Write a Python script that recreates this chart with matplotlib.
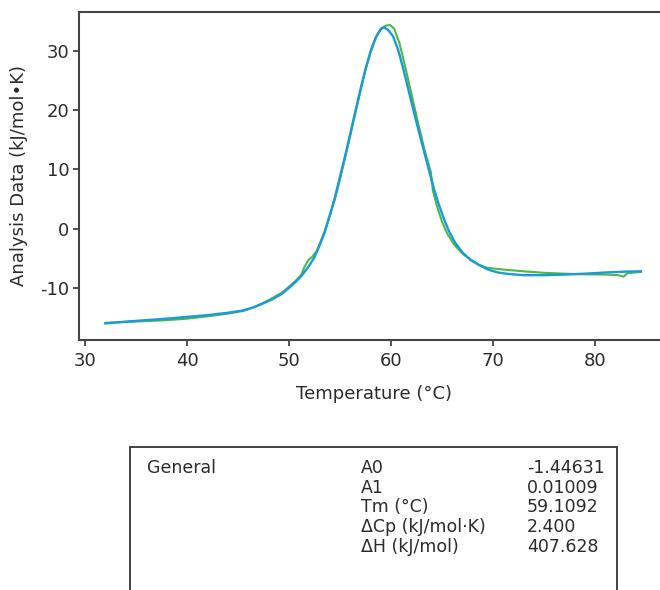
import matplotlib.pyplot as plt
from matplotlib.patches import Rectangle

# fitted curve (blue)
fit_t = [32.0, 34.0, 36.0, 38.0, 40.0, 42.0, 44.0, 45.5, 46.5, 47.5, 48.5, 49.3,
         50.0, 50.7, 51.3, 52.0, 52.5, 53.0, 53.5, 54.0, 54.5, 55.0, 55.5, 56.0,
         56.5, 57.0, 57.5, 58.0, 58.5, 59.0, 59.3, 59.7, 60.2, 60.7, 61.2, 61.7,
         62.2, 62.7, 63.2, 63.7, 64.2, 64.7, 65.2, 65.7, 66.3, 67.0, 67.8, 68.7,
         69.5, 70.5, 71.5, 73.0, 75.0, 77.0, 79.0, 81.0, 83.0, 84.5]
fit_v = [-16.0, -15.7, -15.45, -15.2, -14.9, -14.6, -14.2, -13.8, -13.3, -12.6, -11.8, -11.0,
         -10.0, -8.9, -7.8, -6.2, -4.8, -2.8, -0.6, 2.3, 5.3, 8.8, 12.3, 16.0,
         19.8, 23.5, 27.0, 30.0, 32.3, 33.7, 34.0, 33.6, 32.5, 30.2, 27.0, 23.5,
         20.0, 16.6, 13.3, 10.0, 6.8, 4.0, 1.6, -0.5, -2.4, -4.0, -5.3, -6.2,
         -6.9, -7.4, -7.65, -7.85, -7.85, -7.75, -7.6, -7.4, -7.25, -7.2]

# measured data (green)
data_t = [32.0, 34.0, 36.0, 38.0, 40.0, 42.0, 44.0, 45.5, 46.5, 47.5, 48.5, 49.3,
          50.0, 50.7, 51.2, 51.5, 51.9, 52.3, 52.7, 53.0, 53.5, 54.0, 54.5, 55.0,
          55.5, 56.0, 56.5, 57.0, 57.5, 58.0, 58.5, 59.0, 59.5, 59.9, 60.3, 60.8,
          61.3, 61.8, 62.3, 62.8, 63.3, 63.7, 63.9, 64.1, 64.5, 65.0, 65.5, 66.2,
          67.0, 67.8, 68.6, 69.4, 71.0, 73.0, 75.0, 77.0, 79.0, 81.0, 82.3, 82.8,
          83.2, 84.5]
data_v = [-15.9, -15.75, -15.6, -15.45, -15.2, -14.8, -14.35, -13.9, -13.3, -12.5, -11.6, -10.8,
          -9.8, -8.7, -7.8, -6.5, -5.3, -4.7, -3.8, -2.6, -0.4, 2.2, 5.0, 8.4,
          12.0, 15.7, 19.5, 23.2, 26.8, 29.8, 32.2, 33.8, 34.3, 34.4, 33.8, 31.5,
          28.0, 24.3, 20.5, 16.8, 13.2, 10.8, 9.6, 6.5, 3.8, 1.2, -0.8, -2.7,
          -4.2, -5.2, -6.1, -6.6, -6.9, -7.2, -7.45, -7.6, -7.7, -7.75, -7.85, -8.1,
          -7.5, -7.3]

param_names = ["A0", "A1", "Tm (°C)", "ΔCp (kJ/mol·K)", "ΔH (kJ/mol)"]
param_values = ["-1.44631", "0.01009", "59.1092", "2.400", "407.628"]

plt.rcParams["font.family"] = ["DejaVu Sans"]
plt.rcParams["axes.unicode_minus"] = False
TXT = "#2b2b2b"

fig = plt.figure(figsize=(6.6, 5.9), dpi=100)
ax = fig.add_axes([79 / 660, 1 - 340 / 590, 1 - 79 / 660, 328 / 590])

ax.plot(data_t, data_v, color="#4cb848", linewidth=1.5)
ax.plot(fit_t, fit_v, color="#1a9ad6", linewidth=1.7)

ax.set_xlim(29.41, 86.37)
ax.set_ylim(-18.8, 36.6)
ax.set_xticks([30, 40, 50, 60, 70, 80])
ax.set_yticks([-10, 0, 10, 20, 30])
ax.tick_params(length=4, width=1.2, color="#333333", labelsize=13,
               labelcolor=TXT)
ax.tick_params(axis="x", pad=5)
ax.tick_params(axis="y", pad=3)
for side in ["top", "left", "bottom"]:
    ax.spines[side].set_linewidth(1.5)
    ax.spines[side].set_color("#444444")
ax.spines["right"].set_visible(False)

ax.set_xlabel("Temperature (°C)", fontsize=13, color=TXT)
ax.xaxis.set_label_coords(0.508, -0.137)
ax.set_ylabel("Analysis Data (kJ/mol•K)", fontsize=13, color=TXT)
ax.yaxis.set_label_coords(-0.088, 0.5)

# parameter table box (open at the bottom)
fig.patches.append(Rectangle((130 / 660, -0.05), (617 - 130) / 660, 0.05 + (590 - 447) / 590,
                             transform=fig.transFigure, fill=False,
                             edgecolor="#333333", linewidth=1.3))
fig.text(147 / 660, 1 - 468 / 590, "General", fontsize=12.5, color=TXT, va="center")
for i, (name, val) in enumerate(zip(param_names, param_values)):
    y = 1 - (468 + i * 19.7) / 590
    fig.text(361 / 660, y, name, fontsize=12.5, color=TXT, va="center")
    fig.text(527 / 660, y, val, fontsize=12.5, color=TXT, va="center")

fig.savefig("out.png", dpi=100)
